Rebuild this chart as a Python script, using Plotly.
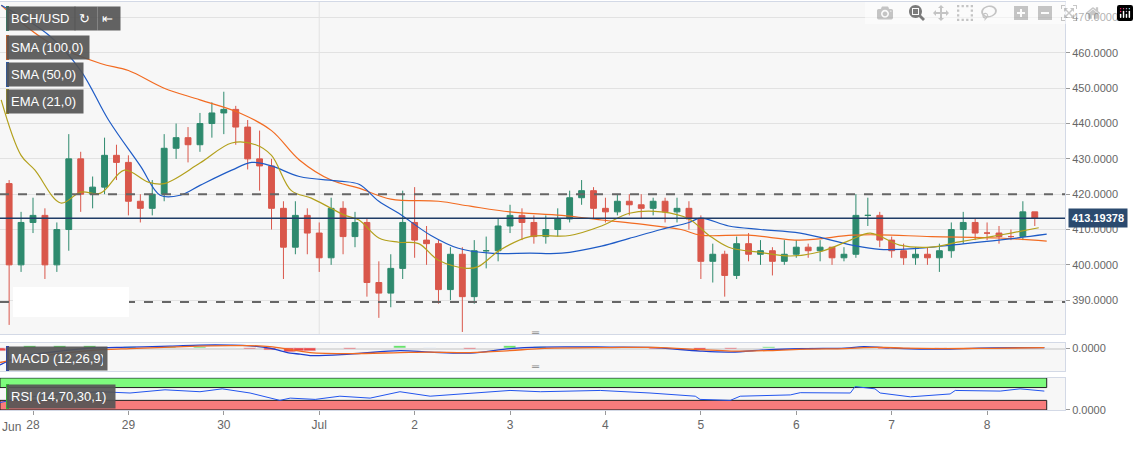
import pandas as pd
import plotly.graph_objects as go
from plotly.subplots import make_subplots

# ---------------- data ----------------
candle_start = "2018-06-27 18:00"   # 3-hour candles
first_open = 423
closes = [400,412,414,400,410,430,420,422,431,429,418,416,420,433,436,434,440,443,444,439,
          430,428,416,405,414,409,402,416,408,412,395,392,399,412,407,406,393,403,391,404,
          404,411,414,412,408,410,413,419,421,416,415,418,417,416,418,415,416,413,401,403,
          397,406,403,404,401,403,405,404,405,402,403,414,414,407,404,402,403,402,404,410,
          412,409,409,408,408,415,413.19]
highs = [424,415,419,416,412,437,432,425,436,434,431,420,424,437,440,439,443,446,449,445,
         441,438,430,418,418,416,412,419,418,415,413,401,403,421,422,411,407,405,405,407,
         408,413,417,416,414,414,416,421,424,422,419,420,420,420,419,419,419,418,414,406,
         404,408,409,407,405,407,407,406,407,405,405,420,419,415,408,406,405,405,406,412,
         415,413,412,411,410,418,415]
lows = [383,398,409,396,398,404,415,416,420,424,414,412,414,418,430,429,432,436,437,434,
        427,421,410,396,403,403,398,400,403,405,391,385,388,396,402,400,389,390,381,389,
        399,401,409,407,406,406,408,412,417,413,412,414,414,413,414,412,412,410,396,395,
        391,396,401,400,397,400,402,402,401,400,401,402,411,405,402,400,400,400,398,402,
        406,407,407,406,407,407,411]

base = "2018-06-28 00:00"
sma100_h = [-8,4,17,24,33,42,52,60,67,75,82,90,102,110,120,133,143,153,163,168,180,193,206,213,226,243,255]
sma100_v = [473.5,463,457,455,450,446.7,443,438,429.7,424,421.7,418.6,418,416.6,415,414,412.7,411.5,410,408.4,
            408.4,407,408.4,408.5,408,407.6,406.7]
sma50_h = [-8,4,12,19,27,32,37,42,50,55,60,67,77,82,87,92,100,107,115,125,133,143,150,158,165,168,175,
           183,193,206,213,223,231,243,255]
sma50_v = [473.5,465,455,441,428,419.7,419.7,422.5,426.8,429,428,425,423.7,422.8,418,414.6,408.4,404.7,403.3,
           403.3,403.3,405.3,407.5,410,412,413.2,411,410,409,405.6,404.4,404.7,405.6,407,408.7]
ema21_h = [-8,-3,0.5,7,12,17,23,29,33,42,50,56,60,65,70,75,78.5,82,87,92,97,102,109,112,117.5,125,135,143,
           150,158,165,170,175,183,190.5,198,205.6,210.6,218,225.7,233,241,246,253]
ema21_v = [446.7,431,426.8,417.5,420.6,420.3,426.8,423.4,423,428.8,434.5,434,431,421,418.9,416,414,412.7,407.6,
           406.4,406,401.3,399,399.5,404.2,408,408.3,411,414.6,415,413,408.4,405,403.5,402.5,403.7,407,409,
           405.6,405,406.5,408,409,410.5]

macd_h = [-8.3,-5.8,-0.8,6.8,14.3,24.4,34.5,42,49.6,54.6,59.6,64.7,67.2,69.7,79.8,92.3,99.9,110,120,127.6,
          145,156.5,167.8,175.6,185.2,194.7,204.3,209,214,219,228.4,238,247.6,254.4]
macd_v = [-16.5,-11.5,-6.5,-2.5,0.5,1.5,2.5,3.5,3.5,2.8,0.5,-4.5,-5.5,-7,-5.5,-2,-3.5,-4.5,0,1.5,
          1.5,1,-2.5,-3.5,-1,0,0.5,2,1,0,-0.5,0.5,1,1]
signal_v = [-14,-12,-9,-5,-2,0,1.5,2.5,3,3,2,-1,-2.5,-4,-5,-4,-3.5,-4,-2,0,
            1,1.2,-1,-2.5,-2,-0.5,0,1,1.2,0.5,0,0.2,0.6,0.9]

rsi_h = [-8.3,-5.8,0.8,6.8,16.9,24.4,33.2,42,47.6,54.6,62.1,64.7,71,77.2,84.8,92.3,99.9,107.4,120,127.6,
         142.7,155.2,166.6,167.8,175.4,177.9,190.5,193,205.6,206.8,211.8,213.1,220.7,230.7,232,243.3,248.3,254.4]
rsi_v = [23,30,43,50,57,53,63,57,66,53,30,37,33,43,37,57,43,50,61,57,
         61,53,43,33,30,43,47,54,53,73,66,53,41,50,61,59,66,59]

last_price = 413.19378
resist, support = 420, 389.5
price_ticks = [390,400,410,420,430,440,450,460,470]
day_ticks = ["2018-06-28","2018-06-29","2018-06-30","2018-07-01","2018-07-02","2018-07-03",
             "2018-07-04","2018-07-05","2018-07-06","2018-07-07","2018-07-08"]
day_labels = ["28","29","30","Jul","2","3","4","5","6","7","8"]

# ---------------- build ----------------
t0 = pd.Timestamp(base)
ht = lambda hs: [t0 + pd.Timedelta(hours=h) for h in hs]
ctimes = pd.date_range(candle_start, periods=len(closes), freq="3h")
opens = [first_open] + closes[:-1]

GREEN, RED = "#2e8a6e", "#d9574b"
fig = make_subplots(rows=3, cols=1, shared_xaxes=True, vertical_spacing=0.02)
fig.add_trace(go.Candlestick(x=ctimes, open=opens, high=highs, low=lows, close=closes,
    increasing=dict(line=dict(color=GREEN, width=1), fillcolor=GREEN),
    decreasing=dict(line=dict(color=RED, width=1), fillcolor=RED), whiskerwidth=0), 1, 1)
fig.add_trace(go.Scatter(x=ht(sma100_h), y=sma100_v, mode="lines", line=dict(color="#f26b21", width=1.2, shape="spline")), 1, 1)
fig.add_trace(go.Scatter(x=ht(sma50_h), y=sma50_v, mode="lines", line=dict(color="#1e5bc6", width=1.2, shape="spline")), 1, 1)
fig.add_trace(go.Scatter(x=ht(ema21_h), y=ema21_v, mode="lines", line=dict(color="#b3a01c", width=1.2, shape="spline")), 1, 1)

hist = [m - s for m, s in zip(macd_v, signal_v)]
fig.add_trace(go.Bar(x=ht(macd_h), y=hist, marker_color=["#22dd22" if v >= 0 else "#ee2222" for v in hist],
                     width=3*3600*1000, opacity=0.8), 2, 1)
fig.add_trace(go.Scatter(x=ht(macd_h), y=macd_v, mode="lines", line=dict(color="#1e3fd0", width=1.3, shape="spline")), 2, 1)
fig.add_trace(go.Scatter(x=ht(macd_h), y=signal_v, mode="lines", line=dict(color="#f26b21", width=1.3, shape="spline")), 2, 1)
fig.add_trace(go.Scatter(x=ht(rsi_h), y=rsi_v, mode="lines", line=dict(color="#2255ee", width=1)), 3, 1)

xr = [t0 + pd.Timedelta(hours=-8.3), t0 + pd.Timedelta(hours=259.6)]
xend = t0 + pd.Timedelta(hours=255)
shapes = [
    dict(type="rect", xref="x3", yref="y3", x0=xr[0], x1=xend, y0=70, y1=100, fillcolor="#7dfb7d", line=dict(color="#222", width=1), layer="below"),
    dict(type="rect", xref="x3", yref="y3", x0=xr[0], x1=xend, y0=0, y1=30, fillcolor="#f87c7c", line=dict(color="#222", width=1), layer="below"),
    dict(type="line", xref="x", yref="y", x0=xr[0], x1=xr[1], y0=resist, y1=resist, line=dict(color="#666", width=2, dash="dash")),
    dict(type="line", xref="x", yref="y", x0=xr[0], x1=xr[1], y0=support, y1=support, line=dict(color="#666", width=2, dash="dash")),
    dict(type="line", xref="x", yref="y", x0=xr[0], x1=xr[1], y0=last_price, y1=last_price, line=dict(color="#1f3c66", width=1.3)),
    dict(type="line", xref="x", yref="paper", x0=day_ticks[3], x1=day_ticks[3], y0=0.19, y1=1, line=dict(color="#e2e2e2", width=1), layer="below"),
    dict(type="rect", xref="paper", yref="paper", x0=13/1065, x1=129/1065, y0=(412-317)/410, y1=(412-287)/410, fillcolor="white", line=dict(width=0)),
]
anns = []
def py(p): return (412 - p) / 410
def box(text, x, y, strip, w):
    anns.append(dict(xref="paper", yref="paper", x=x, y=y, xanchor="left", yanchor="top", text=text, showarrow=False,
                     bgcolor="rgba(85,85,85,0.92)", font=dict(color="white", size=13, family="Arial"), borderpad=4, width=w, align="left"))
    if strip:
        shapes.append(dict(type="rect", xref="paper", yref="paper", x0=x, x1=x+3/1065, y0=y-25/410, y1=y, fillcolor=strip, line=dict(width=0)))
box("BCH/USD", 6/1065, py(6), GREEN, 60)
box("↻", 74/1065, py(6), None, 14)
box("⇤", 97/1065, py(6), None, 14)
box("SMA (100,0)", 6/1065, py(35), "#f26b21", 74)
box("SMA (50,0)", 6/1065, py(62), "#1e5bc6", 68)
box("EMA (21,0)", 6/1065, py(89), "#b3a01c", 68)
box("MACD (12,26,9)", 6/1065, py(346), "#1e3fd0", 92)
box("RSI (14,70,30,1)", 6/1065, py(384), "#22ee22", 100)
anns.append(dict(xref="paper", yref="y", x=1.003, y=last_price, xanchor="left", text="<b>413.19378</b>", showarrow=False,
                 bgcolor="#2b4a6f", font=dict(color="white", size=11, family="Arial"), borderpad=3))
anns.append(dict(xref="paper", yref="paper", x=0.0, y=-0.015, xanchor="left", yanchor="top", text="Jun", showarrow=False,
                 font=dict(color="#666", size=12, family="Arial")))
for yy in [py(340), py(374)]:
    anns.append(dict(xref="paper", yref="paper", x=535/1065, y=yy, text="═", showarrow=False, font=dict(color="#888", size=10)))

axstyle = dict(showline=True, mirror=True, linecolor="#d3d9e6", linewidth=1)
fig.update_layout(
    width=1139, height=449, margin=dict(l=0, r=74, t=2, b=37),
    paper_bgcolor="white", plot_bgcolor="#f7f7f7", showlegend=False,
    shapes=shapes, annotations=anns, bargap=0,
    font=dict(family="Arial", color="#666", size=11),
)
fig.update_xaxes(range=xr, rangeslider_visible=False, showgrid=False, **axstyle)
fig.update_xaxes(tickvals=day_ticks, ticktext=day_labels, ticks="outside", ticklen=4, tickcolor="#999",
                 tickfont=dict(size=12), row=3, col=1)
fig.update_layout(yaxis=dict(domain=[0.19, 1.0], side="right", range=[380.4, 474.4], tickvals=price_ticks,
                             ticktext=[f"{v:.4f}" for v in price_ticks], gridcolor="#e2e2e2", ticks="outside",
                             ticklen=4, tickcolor="#999", zeroline=False, **axstyle),
                  yaxis2=dict(domain=[0.10, 0.168], side="right", range=[-22.5, 5.5], tickvals=[0], ticktext=["0.0000"],
                              showgrid=False, zeroline=True, zerolinecolor="#ddd", ticks="outside", ticklen=4, tickcolor="#999", **axstyle),
                  yaxis3=dict(domain=[0.005, 0.083], side="right", range=[0, 100], tickvals=[0], ticktext=["0.0000"],
                              showgrid=False, zeroline=False, ticks="outside", ticklen=4, tickcolor="#999", **axstyle))
fig.write_html("out.html", post_script="document.body.style.margin='0';document.body.style.overflow='hidden';")
